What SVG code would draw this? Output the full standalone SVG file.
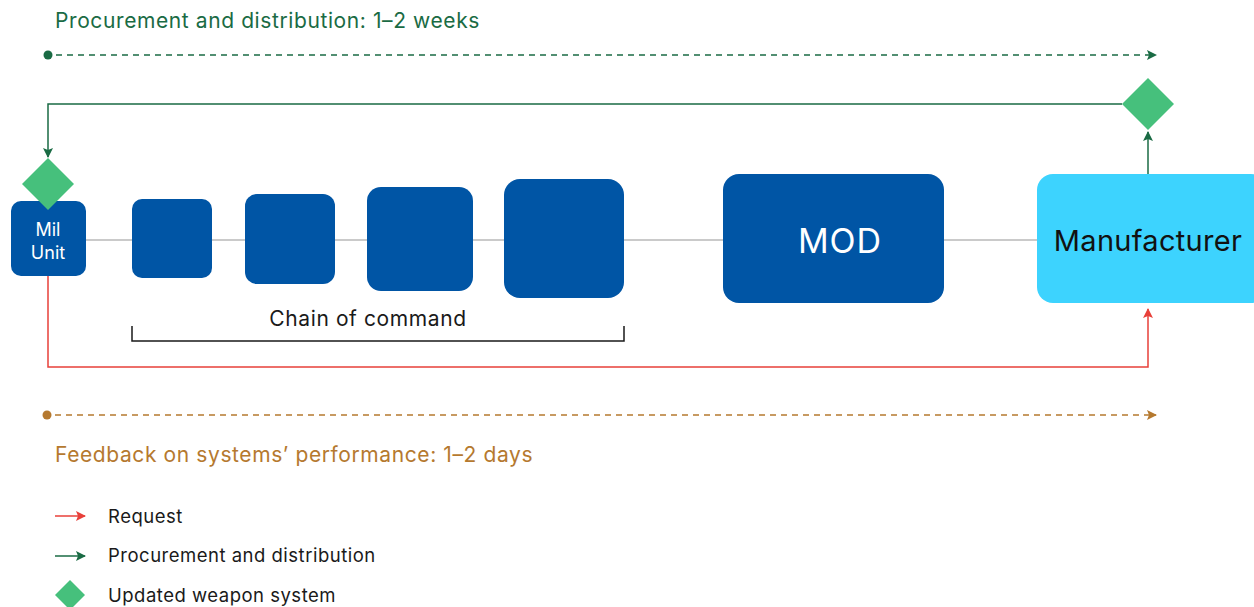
<svg xmlns="http://www.w3.org/2000/svg" width="1254" height="607" viewBox="0 0 1254 607">
  <defs>
    <style>
      text { font-family: Inter, "Liberation Sans", sans-serif; }
      .box { fill: #0055a5; }
      .diamond { fill: #46c07c; }
      .green { stroke: #1a6b44; stroke-width: 1.5; fill: none; }
      .red { stroke: #e8403a; stroke-width: 1.5; fill: none; }
      .gray { stroke: #b8b8b8; stroke-width: 1.5; fill: none; }
      .title { font-size: 21px; letter-spacing: 0.6px; }
      .lbl { font-size: 18.5px; letter-spacing: 0.5px; fill: #1a1a1a; }
    </style>
    <marker id="arrGreen" viewBox="0 0 10 10" refX="9" refY="5" markerWidth="10" markerHeight="10" markerUnits="userSpaceOnUse" orient="auto">
      <path d="M0,0 L10,5 L0,10 L2,5 Z" fill="#1a6b44"/>
    </marker>
    <marker id="arrRed" viewBox="0 0 10 10" refX="9" refY="5" markerWidth="10" markerHeight="10" markerUnits="userSpaceOnUse" orient="auto">
      <path d="M0,0 L10,5 L0,10 L2,5 Z" fill="#e8403a"/>
    </marker>
    <marker id="arrGold" viewBox="0 0 10 10" refX="9" refY="5" markerWidth="10" markerHeight="10" markerUnits="userSpaceOnUse" orient="auto">
      <path d="M0,0 L10,5 L0,10 L2,5 Z" fill="#b5792f"/>
    </marker>
  </defs>

  <rect width="1254" height="607" fill="#ffffff"/>

  <!-- timeline: procurement -->
  <g id="timeline-procurement">
    <text class="title" x="55" y="28" fill="#1a6b44">Procurement and distribution: 1–2 weeks</text>
    <circle cx="48" cy="55" r="4.5" fill="#1a6b44"/>
    <line x1="56" y1="55" x2="1156" y2="55" stroke="#1a6b44" stroke-width="1.5" stroke-dasharray="6,5" marker-end="url(#arrGreen)"/>
  </g>

  <!-- connectors -->
  <g id="connectors">
    <line class="gray" x1="86" y1="240" x2="1037" y2="240"/>
    <polyline class="green" points="1122,104 48,104 48,157" marker-end="url(#arrGreen)"/>
    <line class="green" x1="1148" y1="174" x2="1148" y2="132" marker-end="url(#arrGreen)"/>
    <polyline class="red" points="48,276 48,367 1148,367 1148,309" marker-end="url(#arrRed)"/>
  </g>

  <g id="mil-unit">
    <rect class="box" x="11" y="201" width="75" height="75" rx="10"/>
    <text x="48" y="236" font-size="18" fill="#ffffff" text-anchor="middle">Mil</text>
    <text x="48" y="259" font-size="18" fill="#ffffff" text-anchor="middle">Unit</text>
  </g>
  <g id="diamond-mil-unit">
    <polygon class="diamond" points="48,158 74,184 48,210 22,184"/>
  </g>

  <g id="command-1"><rect class="box" x="132" y="199" width="80" height="79" rx="10"/></g>
  <g id="command-2"><rect class="box" x="245" y="194" width="90" height="90" rx="12"/></g>
  <g id="command-3"><rect class="box" x="367" y="187" width="106" height="104" rx="14"/></g>
  <g id="command-4"><rect class="box" x="504" y="179" width="120" height="119" rx="16"/></g>

  <g id="chain-of-command">
    <text class="title" x="368" y="326" fill="#1a1a1a" text-anchor="middle">Chain of command</text>
    <polyline points="132,326 132,341 624,341 624,326" fill="none" stroke="#1a1a1a" stroke-width="1.5"/>
  </g>

  <g id="mod">
    <rect class="box" x="723" y="174" width="221" height="129" rx="16"/>
    <text x="840" y="253" font-size="34" letter-spacing="1" fill="#ffffff" text-anchor="middle">MOD</text>
  </g>

  <g id="manufacturer">
    <rect x="1037" y="174" width="230" height="129" rx="16" fill="#3dd3fe"/>
    <text x="1148" y="251" font-size="29" letter-spacing="0.3" fill="#111111" text-anchor="middle">Manufacturer</text>
  </g>
  <g id="diamond-manufacturer">
    <polygon class="diamond" points="1148,78 1174,104 1148,130 1122,104"/>
  </g>

  <!-- timeline: feedback -->
  <g id="timeline-feedback">
    <circle cx="47" cy="415" r="4.5" fill="#b5792f"/>
    <line x1="55" y1="415" x2="1156" y2="415" stroke="#b5792f" stroke-width="1.5" stroke-dasharray="6,5" marker-end="url(#arrGold)"/>
    <text class="title" x="55" y="462" fill="#b5792f">Feedback on systems’ performance: 1–2 days</text>
  </g>

  <!-- legend -->
  <g id="legend">
    <line class="red" x1="55" y1="516" x2="85" y2="516" marker-end="url(#arrRed)"/>
    <text class="lbl" x="108" y="523">Request</text>
    <line class="green" x1="55" y1="556" x2="85" y2="556" marker-end="url(#arrGreen)"/>
    <text class="lbl" x="108" y="562">Procurement and distribution</text>
    <polygon class="diamond" points="70,580 85,595 70,610 55,595"/>
    <text class="lbl" x="108" y="602">Updated weapon system</text>
  </g>
</svg>
